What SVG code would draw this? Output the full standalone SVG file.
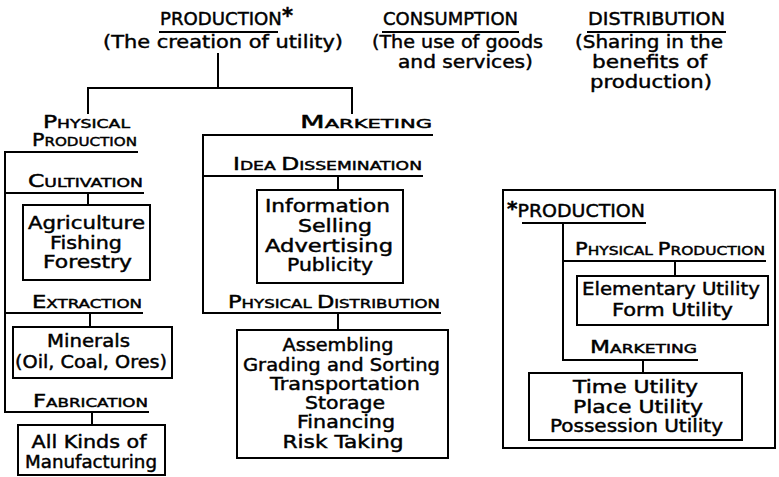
<svg xmlns="http://www.w3.org/2000/svg" width="779" height="477" viewBox="0 0 779 477">
<style>
  text { font-family: "DejaVu Sans", "Liberation Sans", sans-serif; fill: #000; stroke: #000; stroke-width: 0.45; text-anchor: middle; }
  .t { font-size: 18px; }
  .b { font-size: 17.5px; }
  .big { font-size: 17px; }
  .sm { font-size: 12.5px; }
  .ast { font-weight: bold; font-size: 21px; }
  .ln { stroke: #000; stroke-width: 2; fill: none; stroke-linecap: square; }
  .box { stroke: #000; stroke-width: 2; fill: none; }
</style>
<rect x="0" y="0" width="779" height="477" fill="#fff"/>

<g id="connectors" class="ln">
  <line x1="218" y1="54" x2="218" y2="88"/>
  <line x1="88" y1="88" x2="352" y2="88"/>
  <line x1="88" y1="88" x2="88" y2="113"/>
  <line x1="352" y1="88" x2="352" y2="113"/>
  <line x1="5" y1="152" x2="5" y2="412"/>
  <line x1="88" y1="193" x2="88" y2="205"/>
  <line x1="90" y1="313" x2="90" y2="327"/>
  <line x1="92" y1="412" x2="92" y2="425"/>
  <line x1="203" y1="135" x2="203" y2="313"/>
  <line x1="338" y1="176" x2="338" y2="190"/>
  <line x1="338" y1="313" x2="338" y2="330"/>
  <line x1="563" y1="223" x2="563" y2="360"/>
  <line x1="675" y1="261" x2="675" y2="276"/>
  <line x1="643" y1="360" x2="643" y2="373"/>
</g>

<g id="production">
  <text class="t" x="160" y="25" style="text-anchor:start" textLength="133" lengthAdjust="spacingAndGlyphs">PRODUCTION<tspan class="ast" dy="-2">*</tspan></text>
  <line class="ln" x1="160" y1="32" x2="277" y2="32"/>
  <text class="t" x="223" y="48" textLength="240" lengthAdjust="spacingAndGlyphs">(The creation of utility)</text>
</g>

<g id="consumption">
  <text class="t" x="450.5" y="25" textLength="135" lengthAdjust="spacingAndGlyphs">CONSUMPTION</text>
  <line class="ln" x1="383" y1="32" x2="518" y2="32"/>
  <text class="t" x="457.5" y="48" textLength="171" lengthAdjust="spacingAndGlyphs">(The use of goods</text>
  <text class="t" x="465.5" y="68" textLength="135" lengthAdjust="spacingAndGlyphs">and services)</text>
</g>

<g id="distribution">
  <text class="t" x="656.5" y="25" textLength="137" lengthAdjust="spacingAndGlyphs">DISTRIBUTION</text>
  <line class="ln" x1="588" y1="32" x2="725" y2="32"/>
  <text class="t" x="649" y="48" textLength="148" lengthAdjust="spacingAndGlyphs">(Sharing in the</text>
  <text class="t" x="649.5" y="68" textLength="115" lengthAdjust="spacingAndGlyphs">benefits of</text>
  <text class="t" x="651" y="88" textLength="122" lengthAdjust="spacingAndGlyphs">production)</text>
</g>

<g id="physical-production">
  <text x="86.5" y="128" textLength="87" lengthAdjust="spacingAndGlyphs"><tspan class="big">P</tspan><tspan class="sm">HYSICAL</tspan></text>
  <text x="84.5" y="146" textLength="105" lengthAdjust="spacingAndGlyphs"><tspan class="big">P</tspan><tspan class="sm">RODUCTION</tspan></text>
  <line class="ln" x1="5" y1="152" x2="137" y2="152"/>
</g>

<g id="cultivation">
  <text x="85.5" y="187" textLength="115" lengthAdjust="spacingAndGlyphs"><tspan class="big">C</tspan><tspan class="sm">ULTIVATION</tspan></text>
  <line class="ln" x1="5" y1="193" x2="143" y2="193"/>
</g>
<g id="cultivation-box">
  <rect class="box" x="23" y="205" width="127" height="75"/>
  <text class="b" x="86.5" y="229" textLength="117" lengthAdjust="spacingAndGlyphs">Agriculture</text>
  <text class="b" x="86" y="249" textLength="72" lengthAdjust="spacingAndGlyphs">Fishing</text>
  <text class="b" x="87.5" y="268" textLength="89" lengthAdjust="spacingAndGlyphs">Forestry</text>
</g>

<g id="extraction">
  <text x="87" y="308" textLength="110" lengthAdjust="spacingAndGlyphs"><tspan class="big">E</tspan><tspan class="sm">XTRACTION</tspan></text>
  <line class="ln" x1="5" y1="313" x2="142" y2="313"/>
</g>
<g id="extraction-box">
  <rect class="box" x="13" y="327" width="159" height="51"/>
  <text class="b" x="88.5" y="347" textLength="83" lengthAdjust="spacingAndGlyphs">Minerals</text>
  <text class="b" x="91" y="368" textLength="152" lengthAdjust="spacingAndGlyphs">(Oil, Coal, Ores)</text>
</g>

<g id="fabrication">
  <text x="90.5" y="407" textLength="115" lengthAdjust="spacingAndGlyphs"><tspan class="big">F</tspan><tspan class="sm">ABRICATION</tspan></text>
  <line class="ln" x1="5" y1="412" x2="148" y2="412"/>
</g>
<g id="fabrication-box">
  <rect class="box" x="18" y="425" width="147" height="50"/>
  <text class="b" x="89" y="448" textLength="115" lengthAdjust="spacingAndGlyphs">All Kinds of</text>
  <text class="b" x="91" y="468" textLength="132" lengthAdjust="spacingAndGlyphs">Manufacturing</text>
</g>

<g id="marketing">
  <text x="366" y="128" textLength="132" lengthAdjust="spacingAndGlyphs"><tspan class="big">M</tspan><tspan class="sm">ARKETING</tspan></text>
  <line class="ln" x1="203" y1="135" x2="432" y2="135"/>
</g>

<g id="idea-dissemination">
  <text x="327.5" y="170" textLength="189" lengthAdjust="spacingAndGlyphs"><tspan class="big">I</tspan><tspan class="sm">DEA </tspan><tspan class="big">D</tspan><tspan class="sm">ISSEMINATION</tspan></text>
  <line class="ln" x1="203" y1="176" x2="422" y2="176"/>
</g>
<g id="idea-box">
  <rect class="box" x="257" y="190" width="146" height="93"/>
  <text class="b" x="327.5" y="212" textLength="125" lengthAdjust="spacingAndGlyphs">Information</text>
  <text class="b" x="335" y="232" textLength="74" lengthAdjust="spacingAndGlyphs">Selling</text>
  <text class="b" x="329" y="252" textLength="128" lengthAdjust="spacingAndGlyphs">Advertising</text>
  <text class="b" x="330" y="271" textLength="86" lengthAdjust="spacingAndGlyphs">Publicity</text>
</g>

<g id="physical-distribution">
  <text x="334" y="308" textLength="212" lengthAdjust="spacingAndGlyphs"><tspan class="big">P</tspan><tspan class="sm">HYSICAL </tspan><tspan class="big">D</tspan><tspan class="sm">ISTRIBUTION</tspan></text>
  <line class="ln" x1="203" y1="313" x2="440" y2="313"/>
</g>
<g id="distribution-box">
  <rect class="box" x="237" y="330" width="211" height="128"/>
  <text class="b" x="338" y="351" textLength="111" lengthAdjust="spacingAndGlyphs">Assembling</text>
  <text class="b" x="341.5" y="371" textLength="197" lengthAdjust="spacingAndGlyphs">Grading and Sorting</text>
  <text class="b" x="345" y="390" textLength="150" lengthAdjust="spacingAndGlyphs">Transportation</text>
  <text class="b" x="345" y="409" textLength="80" lengthAdjust="spacingAndGlyphs">Storage</text>
  <text class="b" x="346" y="428" textLength="98" lengthAdjust="spacingAndGlyphs">Financing</text>
  <text class="b" x="343" y="448" textLength="121" lengthAdjust="spacingAndGlyphs">Risk Taking</text>
</g>

<g id="inset">
  <rect class="box" x="503" y="190" width="272" height="258"/>
  <text class="t" x="507" y="217" style="text-anchor:start" textLength="138" lengthAdjust="spacingAndGlyphs"><tspan class="ast" dy="-2" style="font-size:19px">*</tspan><tspan dy="2">PRODUCTION</tspan></text>
  <line class="ln" x1="523" y1="223" x2="645" y2="223"/>
</g>
<g id="inset-physical-production">
  <text x="670" y="255" textLength="190" lengthAdjust="spacingAndGlyphs"><tspan class="big">P</tspan><tspan class="sm">HYSICAL </tspan><tspan class="big">P</tspan><tspan class="sm">RODUCTION</tspan></text>
  <line class="ln" x1="563" y1="261" x2="765" y2="261"/>
</g>
<g id="inset-physical-box">
  <rect class="box" x="577" y="276" width="191" height="49"/>
  <text class="b" x="671" y="295" textLength="178" lengthAdjust="spacingAndGlyphs">Elementary Utility</text>
  <text class="b" x="672.5" y="316" textLength="121" lengthAdjust="spacingAndGlyphs">Form Utility</text>
</g>
<g id="inset-marketing">
  <text x="643.5" y="353" textLength="107" lengthAdjust="spacingAndGlyphs"><tspan class="big">M</tspan><tspan class="sm">ARKETING</tspan></text>
  <line class="ln" x1="563" y1="360" x2="697" y2="360"/>
</g>
<g id="inset-marketing-box">
  <rect class="box" x="529" y="373" width="213" height="67"/>
  <text class="b" x="635.5" y="393" textLength="125" lengthAdjust="spacingAndGlyphs">Time Utility</text>
  <text class="b" x="638" y="413" textLength="130" lengthAdjust="spacingAndGlyphs">Place Utility</text>
  <text class="b" x="636.5" y="432" textLength="173" lengthAdjust="spacingAndGlyphs">Possession Utility</text>
</g>
</svg>
